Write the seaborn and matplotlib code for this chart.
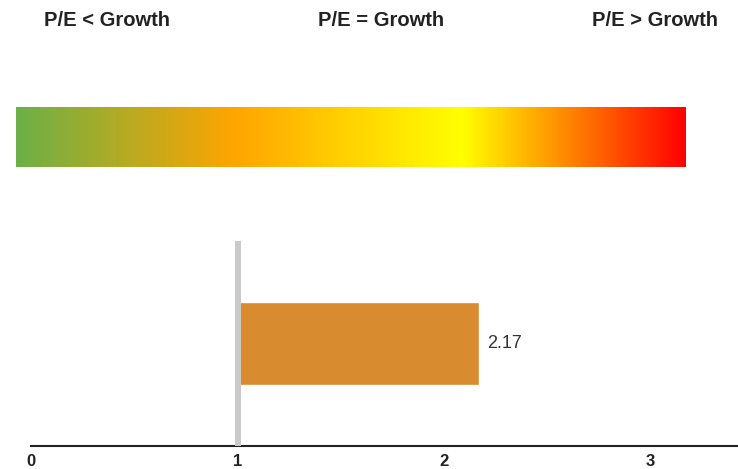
import numpy as np
import pandas as pd
import matplotlib
matplotlib.use("Agg")
import matplotlib.pyplot as plt
import seaborn as sns
from matplotlib.colors import LinearSegmentedColormap

# ---- data ----
zone_labels = ["P/E < Growth", "P/E = Growth", "P/E > Growth"]
categories = ["PEG"]
values = [2.17]
baseline = 1.0
tick_values = [0, 1, 2, 3]
tick_labels = ["0", "1", "2", "3"]
gradient_stops = [0.0, 0.325, 0.667, 1.0]
gradient_colors = ["#6db046", "#ffa500", "#ffff00", "#ff0000"]

sns.set_theme(style="white")
plt.rcParams['font.family'] = ['Liberation Sans', 'DejaVu Sans']

W, H = 738, 469
fig = plt.figure(figsize=(W / 100, H / 100), dpi=100)


def px_axes(x0, y0, x1, y1):
    return fig.add_axes([x0 / W, 1 - y1 / H, (x1 - x0) / W, (y1 - y0) / H])


# ---- bar panel ----
ax = px_axes(31, 241, 738, 446)
df = pd.DataFrame({"metric": categories, "value": values})
df["span"] = df["value"] - baseline
sns.barplot(data=df, x="span", y="metric", orient="h", color="#d98b2f",
            saturation=1, width=0.4, left=baseline, ax=ax, errorbar=None)
ax.axvline(baseline, color="#cacaca", lw=4.3, zorder=5)
ax.bar_label(ax.containers[0], labels=[f"{v:.2f}" for v in df["value"]],
             padding=6, fontsize=13, color="#333333")
ax.set_xlim(0, (738 - 31) / 206.5)
ax.set_xticks(tick_values)
ax.set_xticklabels(tick_labels, fontweight="bold", fontsize=12, color="#222222")
ax.tick_params(axis="x", length=0, pad=5.5)
ax.set_yticks([])
ax.set_xlabel("")
ax.set_ylabel("")
sns.despine(ax=ax, left=True)
ax.spines["bottom"].set_color("#222222")
ax.spines["bottom"].set_linewidth(1.5)
ax.patch.set_alpha(0)

# ---- gradient scale ----
gax = px_axes(16, 107, 686, 167)
cmap = LinearSegmentedColormap.from_list("pe", list(zip(gradient_stops, gradient_colors)))
gax.imshow(np.linspace(0, 1, 600)[None, :], cmap=cmap, aspect="auto")
gax.set_axis_off()

# ---- zone labels ----
for xc, lab in zip([107, 381, 655], zone_labels):
    fig.text(xc / W, 1 - 20 / H, lab, ha="center", va="center",
             fontsize=14.5, fontweight="bold", color="#222222")

fig.savefig("out.png", dpi=100)
